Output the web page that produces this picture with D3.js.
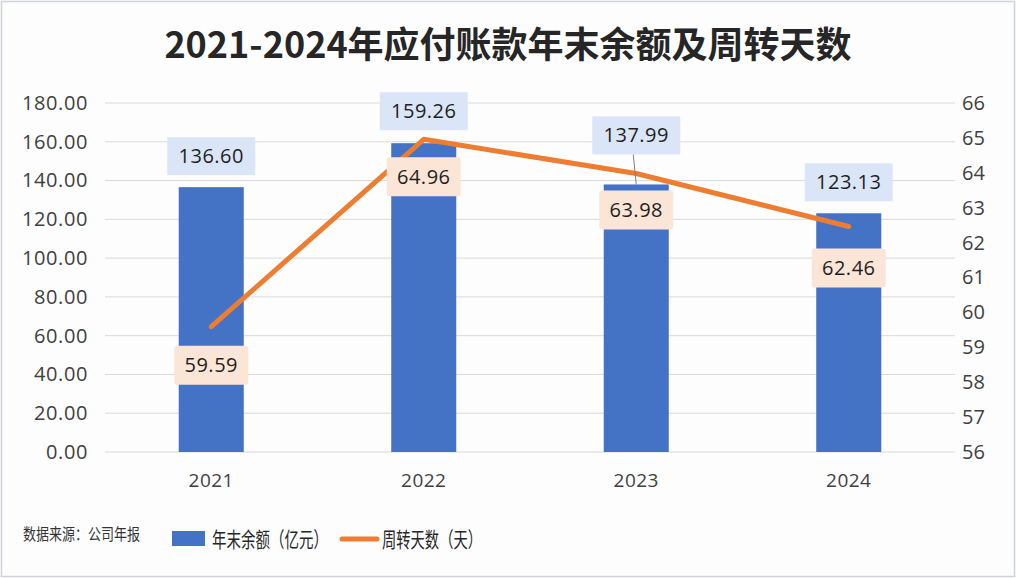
<!DOCTYPE html>
<html><head><meta charset="utf-8">
<script src="https://cdn.jsdelivr.net/npm/d3@7/dist/d3.min.js"></script>
<style>
html,body{margin:0;padding:0;background:#fff;}
svg{display:block;}
</style></head>
<body>
<script>
const categories = ["2021","2022","2023","2024"];
const balance = [136.60, 159.26, 137.99, 123.13];
const turnoverDays = [59.59, 64.96, 63.98, 62.46];
const leftTicks = [0,20,40,60,80,100,120,140,160,180];
const rightTicks = [56,57,58,59,60,61,62,63,64,65,66];
const title = "2021-2024年应付账款年末余额及周转天数";
const legendLabels = ["年末余额（亿元）","周转天数（天）"];
const sourceText = "数据来源：公司年报";

const W = 1016, H = 578;
const cjk = "'Noto Sans CJK SC','Noto Sans',sans-serif";
const num = "'Open Sans','Noto Sans',sans-serif";
const svg = d3.select("body").append("svg").attr("width", W).attr("height", H);

svg.append("rect").attr("x",0).attr("y",0).attr("width",W).attr("height",H).attr("fill","#fdfdfe");
svg.append("rect").attr("x",1.5).attr("y",1.5).attr("width",W-3).attr("height",H-3)
  .attr("fill","none").attr("stroke","#d0d3d8").attr("stroke-width",1.5);

const x = d3.scaleBand().domain(categories).range([105,955]).paddingInner(0.694).paddingOuter(0.347);
const yL = d3.scaleLinear().domain([0,180]).range([452,103]);
const yR = d3.scaleLinear().domain([56,66]).range([452,103]);

// title
svg.append("text").attr("x",508).attr("y",58).attr("text-anchor","middle")
  .attr("font-family",cjk).attr("font-weight","bold").attr("font-size",36).attr("fill","#262626")
  .text(title);

// gridlines
svg.append("g").selectAll("line").data(leftTicks).join("line")
  .attr("x1",105).attr("x2",955).attr("y1",d=>yL(d)).attr("y2",d=>yL(d))
  .attr("stroke","#d9d9d9").attr("stroke-width",1);

// left axis
const gL = svg.append("g").attr("transform","translate(88,0)")
  .call(d3.axisLeft(yL).tickValues(leftTicks).tickFormat(d3.format(".2f")).tickSize(0).tickPadding(0));
gL.select(".domain").remove();
gL.selectAll("text").attr("font-family",num).attr("font-size",20).attr("letter-spacing","0.6px").attr("fill","#404040");

// right axis
const gR = svg.append("g").attr("transform","translate(962,0)")
  .call(d3.axisRight(yR).tickValues(rightTicks).tickFormat(d3.format("d")).tickSize(0).tickPadding(0));
gR.select(".domain").remove();
gR.selectAll("text").attr("font-family",num).attr("font-size",20).attr("fill","#404040");

// x axis labels
const gX = svg.append("g").attr("transform","translate(0,452)")
  .call(d3.axisBottom(x).tickSize(0).tickPadding(22));
gX.select(".domain").remove();
gX.selectAll("text").attr("font-family",num).attr("font-size",19).attr("letter-spacing","0.5px").attr("fill","#404040");

// bars
svg.append("g").selectAll("rect").data(categories).join("rect")
  .attr("x",d=>x(d)).attr("width",x.bandwidth())
  .attr("y",(d,i)=>yL(balance[i])).attr("height",(d,i)=>yL(0)-yL(balance[i]))
  .attr("fill","#4472c4");

// line
const cx = d => x(d)+x.bandwidth()/2;
svg.append("path").datum(categories)
  .attr("d", d3.line().x(d=>cx(d)).y((d,i)=>yR(turnoverDays[i])))
  .attr("fill","none").attr("stroke","#ed7d31").attr("stroke-width",5).attr("stroke-linecap","round").attr("stroke-linejoin","round");

// bar labels (boxes above bars)
const barLabelOffsets = [-12, -13, -30, -12]; // box bottom relative to bar top
const barBoxW = 88, barBoxH = 38;
const gBL = svg.append("g");
categories.forEach((c,i)=>{
  const top = yL(balance[i]);
  const bottom = top + barLabelOffsets[i];
  const bx = cx(c) - barBoxW/2;
  if (i===2) {
    gBL.append("line").attr("x1",cx(c)-3).attr("y1",bottom).attr("x2",cx(c)).attr("y2",top)
      .attr("stroke","#7f7f7f").attr("stroke-width",1);
  }
  gBL.append("rect").attr("x",bx).attr("y",bottom-barBoxH).attr("width",barBoxW).attr("height",barBoxH)
    .attr("fill","#dae6f7");
  gBL.append("text").attr("x",cx(c)).attr("y",bottom-barBoxH/2+7).attr("text-anchor","middle")
    .attr("font-family",num).attr("font-size",20).attr("letter-spacing","0.5px").attr("fill","#1f1f1f")
    .text(d3.format(".2f")(balance[i]));
});

// line labels (peach boxes below points)
const lineLabelOffsets = [19, 18, 17, 22]; // box top relative to point
const lnBoxW = 74, lnBoxH = 39;
const gLL = svg.append("g");
categories.forEach((c,i)=>{
  const py = yR(turnoverDays[i]);
  const top = py + lineLabelOffsets[i];
  gLL.append("rect").attr("x",cx(c)-lnBoxW/2).attr("y",top).attr("width",lnBoxW).attr("height",lnBoxH)
    .attr("rx",3).attr("fill","#fbe5d6");
  gLL.append("text").attr("x",cx(c)).attr("y",top+lnBoxH/2+7).attr("text-anchor","middle")
    .attr("font-family",num).attr("font-size",20).attr("letter-spacing","0.5px").attr("fill","#1f1f1f")
    .text(d3.format(".2f")(turnoverDays[i]));
});

// source
svg.append("text").attr("x",23).attr("y",540)
  .attr("font-family",cjk).attr("font-size",16).attr("fill","#333")
  .attr("textLength",117).attr("lengthAdjust","spacingAndGlyphs")
  .text(sourceText);

// legend
svg.append("rect").attr("x",172).attr("y",531).attr("width",33).attr("height",15).attr("fill","#4472c4");
svg.append("text").attr("x",212).attr("y",547)
  .attr("font-family",cjk).attr("font-size",21).attr("fill","#262626")
  .attr("textLength",116).attr("lengthAdjust","spacingAndGlyphs")
  .text(legendLabels[0]);
svg.append("line").attr("x1",342).attr("x2",377).attr("y1",539).attr("y2",539)
  .attr("stroke","#ed7d31").attr("stroke-width",5).attr("stroke-linecap","round");
svg.append("text").attr("x",382).attr("y",547)
  .attr("font-family",cjk).attr("font-size",21).attr("fill","#262626")
  .attr("textLength",100).attr("lengthAdjust","spacingAndGlyphs")
  .text(legendLabels[1]);
</script>
</body></html>
